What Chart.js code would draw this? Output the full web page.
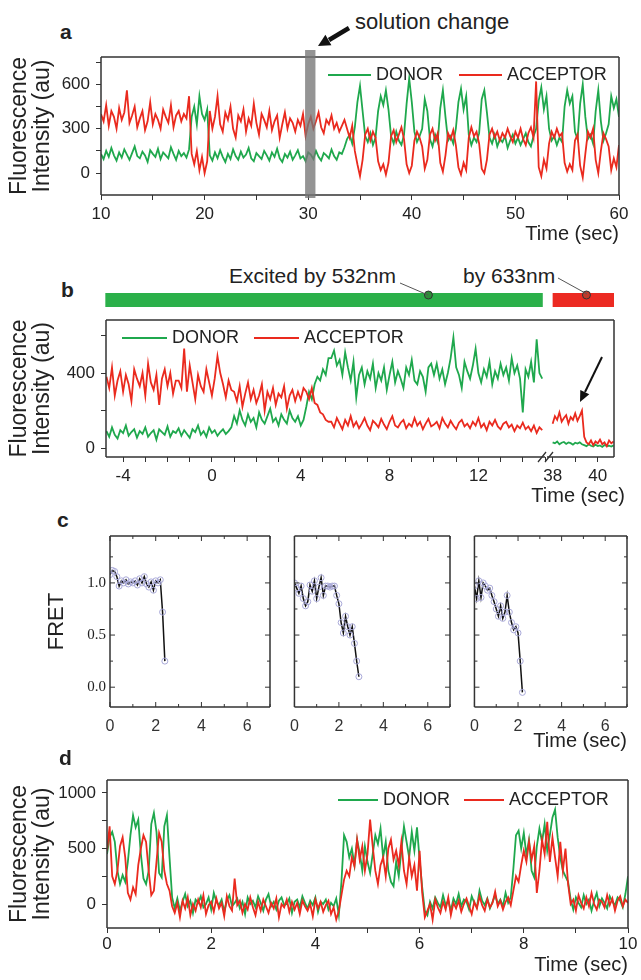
<!DOCTYPE html>
<html>
<head>
<meta charset="utf-8">
<title>Single-molecule FRET traces</title>
<script src="https://cdn.jsdelivr.net/npm/chart.js@4.4.1/dist/chart.umd.min.js"></script>
<style>
  body { margin: 0; background: #fff; }
  #fig { position: relative; width: 641px; height: 980px; font-family: 'Liberation Sans', Arial, sans-serif; color: #222; overflow: hidden; }
  #fig canvas { position: absolute; }
  .lbl { position: absolute; font-weight: bold; font-size: 21px; line-height: 24px; }
  .note { position: absolute; font-size: 21px; line-height: 26px; white-space: nowrap; }
  #over { position: absolute; left: 0; top: 0; pointer-events: none; }
</style>
</head>
<body>
<div id="fig">
  <div class="lbl" style="left:60px;top:20px">a</div>
  <div class="note" style="left:355px;top:9px;font-size:22px">solution change</div>
  <canvas id="chartA" width="641" height="210" style="left:0;top:40px"></canvas>

  <div class="lbl" style="left:61px;top:278px">b</div>
  <div class="note" style="left:229px;top:263px">Excited by 532nm</div>
  <div class="note" style="left:463px;top:263px">by 633nm</div>
  <canvas id="chartB1" width="560" height="236" style="left:0;top:262px"></canvas>
  <canvas id="chartB2" width="201" height="250" style="left:440px;top:262px"></canvas>
  <div class="note" style="right:16px;top:483px;font-size:20px;line-height:24px">Time (sec)</div>

  <div class="lbl" style="left:57px;top:508px">c</div>
  <canvas id="chartC1" width="280" height="240" style="left:0;top:520px"></canvas>
  <canvas id="chartC2" width="180" height="240" style="left:280px;top:520px"></canvas>
  <canvas id="chartC3" width="181" height="240" style="left:460px;top:520px"></canvas>

  <div class="lbl" style="left:59px;top:746px">d</div>
  <canvas id="chartD" width="641" height="220" style="left:0;top:760px"></canvas>

  <svg id="over" width="641" height="980">
    <line x1="349" y1="28" x2="329" y2="40" stroke="#111" stroke-width="4.5"/>
    <polygon points="318,46 331.4,45.2 325.4,34.8" fill="#111"/>
    <line x1="400" y1="283" x2="428" y2="295" stroke="#555" stroke-width="1"/>
    <line x1="558" y1="278" x2="587" y2="294" stroke="#555" stroke-width="1"/>
    <line x1="602" y1="357" x2="585" y2="392" stroke="#111" stroke-width="2"/>
    <polygon points="580,402 589.3,394.3 580.3,389.9" fill="#111"/>
  </svg>
</div>

<script>
// ---- data ----
const GREEN = '#1fa84d';
const RED = '#ea2a1e';

// panel a : 10-60 s, one point every 0.25 s
const startA = 10, stepA = 0.25;
const donorA = [
  130,95,150,110,170,120,85,140,105,160,125,90,135,180,115,100,145,120,75,155,130,110,165,95,140,120,100,175,130,90,150,115,135,105,160,
  380,450,330,520,400,360,430,
  120,85,140,100,155,110,75,130,95,160,115,90,145,105,125,170,100,80,135,115,95,150,120,85,140,110,165,100,75,130,105,145,90,120,155,100,115,80,140,125,95,150,110,85,135,120,100,160,115,90,140,130,175,
  230,260,200,310,480,590,420,250,210,270,
  190,240,420,520,460,560,430,250,200,280,
  220,190,260,470,640,480,280,210,250,300,
  500,420,230,180,260,210,440,560,380,220,
  250,200,300,480,570,430,520,260,190,240,
  210,270,500,560,410,240,200,260,180,230,
  210,250,170,220,260,200,240,190,230,270,
  210,180,250,300,490,580,430,520,300,220,
  250,190,240,210,450,560,470,520,280,230,
  470,600,380,230,260,200,420,560,350,220,
  270,330,520,440,500,380
];
const acceptorA = [
  400,350,460,320,420,380,300,440,360,410,560,340,390,450,310,370,420,290,350,480,330,400,360,300,430,380,340,460,310,390,420,350,400,370,520,
  130,60,150,20,110,0,80,
  420,300,380,520,330,280,410,360,450,300,240,390,350,430,280,370,320,470,340,260,400,360,310,420,290,350,390,240,330,410,300,370,340,280,360,320,400,250,330,380,300,350,410,310,270,360,330,390,300,340,280,320,360,
  300,240,320,150,60,-20,90,260,300,220,
  280,240,80,20,60,-10,70,250,290,210,
  260,310,230,60,0,50,220,280,240,180,
  30,90,260,300,220,270,70,10,120,270,
  230,290,190,40,-10,70,20,240,310,250,
  280,200,30,0,90,260,300,240,280,220,
  270,240,300,250,210,280,240,300,230,190,
  270,310,240,620,40,-20,90,30,200,280,
  240,300,250,270,70,10,60,20,220,260,
  50,-30,130,280,240,300,90,0,150,270,
  230,180,20,100,40,190
];
const xLabelsA = [10, 20, 30, 40, 50, 60];
const yLabelsA = [0, 300, 600];
const solutionChange = [29.7, 30.7];

// panel b : -4.75 to 14.9 s every 0.125 s, then 38.0-40.7 s every 0.1 s
const startB1 = -4.75, stepB1 = 0.125;
const donorB1 = [
  90,60,110,70,50,95,80,120,65,85,100,55,90,75,110,60,80,95,45,100,85,70,115,60,90,80,105,65,95,75,55,100,85,120,70,90,60,110,80,95,65,85,100,75,90,110,
  170,130,200,150,120,180,140,160,110,190,150,130,170,210,140,160,120,180,150,130,200,160,140,170,120,150,
  220,300,260,340,380,360,420,390,480,
  480,520,440,470,390,510,430,360,460,270,
  390,430,340,410,370,450,320,400,360,430,
  310,390,460,350,410,370,320,430,390,470,
  360,340,410,380,300,430,450,390,450,370,
  420,340,400,480,590,430,390,320,460,410,
  370,440,530,400,350,420,380,460,340,410,
  370,450,390,430,360,480,400,440,370,190,
  420,380,460,350,580,400,370
];
const acceptorB1 = [
  380,320,430,280,360,410,300,390,340,250,
  420,370,330,400,280,450,350,310,390,230,
  370,420,330,400,290,360,360,320,530,300,
  440,350,260,390,330,300,420,350,280,370,
  490,400,340,270,360,310,
  300,250,330,220,290,350,260,310,240,280,340,200,300,260,320,230,290,270,330,210,280,310,250,300,260,320,
  300,260,320,240,230,190,180,150,140,
  140,110,160,130,100,150,120,170,115,140,
  105,130,160,120,95,145,130,110,155,125,
  100,140,170,120,110,135,150,105,130,115,
  160,120,140,100,130,155,115,125,140,105,
  160,130,110,145,120,100,135,150,115,130,
  105,140,120,160,110,130,95,140,120,150,
  115,100,130,140,110,125,90,120,105,135,
  100,115,90,120,80,110,95
];
const startB2 = 38, stepB2 = 0.1;
const donorB2 = [30,25,35,20,28,32,22,30,26,18,28,24,30,20,15,10,20,12,8,18,10,14,6,16,10,12,8,14];
const acceptorB2 = [130,170,150,190,140,160,175,130,165,150,185,145,170,200,60,30,20,40,15,35,25,45,20,30,10,40,25,35];
const xLabelsB1 = [-4, 0, 4, 8, 12];
const xLabelsB2 = [38, 40];
const yLabelsB = [0, 400];

// panel c : FRET efficiency, one point every 0.1 s
const stepC = 0.1;
const fret1 = [1.08,1.12,1.11,1.06,0.97,1.02,1.0,1.03,0.99,1.01,1.0,1.02,0.98,1.04,1.0,1.06,0.99,0.96,1.01,0.93,1.02,1.0,1.03,0.72,0.25];
const fret2 = [1.0,0.95,0.9,0.97,0.85,0.78,0.82,0.98,0.92,1.02,0.85,0.96,1.05,0.88,0.97,0.97,0.96,0.97,0.97,0.88,0.8,0.62,0.52,0.68,0.58,0.5,0.58,0.42,0.25,0.1];
const fret3 = [0.97,0.85,1.02,0.86,1.0,0.97,0.93,0.95,0.88,0.82,0.75,0.68,0.78,0.66,0.72,0.88,0.72,0.62,0.55,0.58,0.52,0.25,-0.05];
const xLabelsC = [0, 2, 4, 6];
const yLabelsC = [0, 0.5, 1];

// panel d : 0-10 s every 0.05 s
const startD = 0, stepD = 0.05;
const donorD = [
  450,600,650,560,300,180,260,200,380,620,800,690,760,450,230,180,300,720,820,650,280,240,700,800,420,60,
  -40,50,-60,20,90,-20,30,-80,40,10,70,-30,0,60,-50,100,20,-10,40,-70,30,80,-20,10,50,-40,20,-90,60,0,30,-30,70,10,-60,40,90,-20,20,-50,30,60,-10,0,50,-80,20,40,-30,70,10,-40,30,-10,60,-70,20,0,40,-50,10,-20,50,-100,
  200,620,560,420,500,350,580,460,300,520,380,280,450,620,540,680,420,560,300,200,160,380,250,480,700,560,420,650,480,690,400,150,-60,
  -100,20,-40,60,10,-30,80,-10,30,-60,50,0,90,-20,40,20,-50,70,10,-30,120,30,-10,50,-40,20,80,0,40,-20,100,10,60,
  320,620,660,500,640,440,580,300,240,520,680,560,720,480,620,780,850,600,420,300,250,200,40,
  -50,60,10,-30,80,0,40,-60,30,100,-20,50,10,-40,70,20,-10,60,30,-30,90,250
];
const acceptorD = [
  480,700,250,180,300,520,600,420,100,40,150,90,350,500,620,560,300,80,120,380,640,560,300,180,120,-20,
  -80,10,-120,30,-40,60,-100,0,-60,40,-30,80,-90,-10,20,-70,50,-40,10,-110,70,-20,-60,230,-10,30,-80,0,-50,60,-30,-100,20,-60,40,-20,-80,10,-40,50,-120,0,-30,40,-70,20,-50,10,-90,30,-20,-60,0,-110,40,-40,20,-70,-10,30,-90,-30,-140,-60,
  80,220,300,250,420,340,580,400,520,300,450,760,520,300,180,350,420,250,500,580,400,480,350,560,300,180,420,250,350,120,480,100,-120,
  -60,0,-140,40,-30,-80,20,-50,60,-100,10,-40,30,-70,0,50,-20,-90,20,-40,70,-10,-60,40,-30,10,110,-20,30,-50,20,60,-10,
  120,250,200,350,480,380,560,400,520,100,300,580,450,740,380,600,420,250,560,300,500,180,0,
  40,-60,80,10,-40,60,-20,100,0,-50,40,20,-30,80,-10,50,-60,30,70,-20,40,10
];
const xLabelsD = [0, 2, 4, 6, 8, 10];
const yLabelsD = [0, 500, 1000];

// ---- helpers ----
const pts = (start, step, arr) => arr.map((v, i) => ({x: start + i * step, y: v}));
const near = (v, list) => list.some(l => Math.abs(l - v) < 1e-6);

Chart.defaults.font.family = "'Liberation Sans', Arial, sans-serif";
Chart.defaults.color = '#222';
Chart.defaults.animation = false;
Chart.defaults.responsive = false;
Chart.defaults.plugins.legend.display = false;
Chart.defaults.plugins.tooltip.enabled = false;
Chart.defaults.elements.point.radius = 0;

const frame = {
  id: 'frame',
  afterDatasetsDraw(chart, args, o) {
    const {left, right, top, bottom} = chart.chartArea;
    const ctx = chart.ctx;
    const s = o.sides || 'ltrb';
    const ext = o.extend || 0;
    ctx.save();
    ctx.strokeStyle = '#333';
    ctx.lineWidth = 1.5;
    ctx.beginPath();
    if (s.includes('l')) { ctx.moveTo(left, top); ctx.lineTo(left, bottom); }
    if (s.includes('t')) { ctx.moveTo(left, top); ctx.lineTo(right + ext, top); }
    if (s.includes('r')) { ctx.moveTo(right, top); ctx.lineTo(right, bottom); }
    if (s.includes('b')) { ctx.moveTo(left, bottom); ctx.lineTo(right, bottom); }
    ctx.stroke();
    ctx.restore();
  }
};

const band = {
  id: 'band',
  afterDatasetsDraw(chart, args, o) {
    const x = chart.scales.x, {top, bottom} = chart.chartArea;
    const x0 = x.getPixelForValue(o.range[0]), x1 = x.getPixelForValue(o.range[1]);
    chart.ctx.save();
    chart.ctx.fillStyle = 'rgba(118,118,118,0.78)';
    chart.ctx.fillRect(x0, top - 7, x1 - x0, bottom - top + 10);
    chart.ctx.restore();
  }
};

const lineLegend = {
  id: 'lineLegend',
  afterDraw(chart, args, o) {
    const ctx = chart.ctx;
    let x = o.x;
    const y = chart.chartArea.top + o.dy;
    ctx.save();
    ctx.font = "18px 'Liberation Sans', Arial, sans-serif";
    ctx.textBaseline = 'middle';
    chart.data.datasets.forEach(ds => {
      ctx.strokeStyle = ds.borderColor;
      ctx.lineWidth = 2;
      ctx.beginPath();
      ctx.moveTo(x, y);
      ctx.lineTo(x + o.line, y);
      ctx.stroke();
      x += o.line + 5;
      ctx.fillStyle = '#222';
      ctx.fillText(ds.label, x, y);
      x += ctx.measureText(ds.label).width + o.space;
    });
    ctx.restore();
  }
};

// excitation laser bar above panel b
const excite = {
  id: 'excite',
  afterDraw(chart, args, o) {
    const x = chart.scales.x, {top} = chart.chartArea;
    const x0 = x.getPixelForValue(o.from), x1 = x.getPixelForValue(o.to);
    const ctx = chart.ctx;
    ctx.save();
    ctx.fillStyle = o.color;
    ctx.fillRect(x0, top - 27, x1 - x0, 14);
    ctx.beginPath();
    ctx.arc(x.getPixelForValue(o.mark), top - 25, 4, 0, Math.PI * 2);
    ctx.fillStyle = o.markColor;
    ctx.fill();
    ctx.strokeStyle = '#333';
    ctx.lineWidth = 1;
    ctx.stroke();
    ctx.restore();
  }
};

const axisBreak = {
  id: 'axisBreak',
  afterDraw(chart) {
    const {right, bottom} = chart.chartArea;
    const ctx = chart.ctx;
    ctx.save();
    ctx.strokeStyle = '#333';
    ctx.lineWidth = 1.3;
    ctx.beginPath();
    ctx.moveTo(right - 7, bottom + 5); ctx.lineTo(right + 1, bottom - 5);
    ctx.moveTo(right, bottom + 5); ctx.lineTo(right + 8, bottom - 5);
    ctx.stroke();
    ctx.restore();
  }
};

const innerTicks = {
  id: 'innerTicks',
  afterDraw(chart, args, o) {
    const {left, right, top, bottom} = chart.chartArea;
    const ctx = chart.ctx;
    const isMajor = (v, m) => Math.abs(v / m - Math.round(v / m)) < 1e-6;
    ctx.save();
    ctx.strokeStyle = '#333';
    ctx.lineWidth = 1;
    ctx.beginPath();
    chart.scales.x.ticks.forEach(t => {
      const p = chart.scales.x.getPixelForValue(t.value);
      const len = isMajor(t.value, o.xMajor) ? 5 : 3;
      ctx.moveTo(p, bottom); ctx.lineTo(p, bottom - len);
      ctx.moveTo(p, top); ctx.lineTo(p, top + len);
    });
    chart.scales.y.ticks.forEach(t => {
      const p = chart.scales.y.getPixelForValue(t.value);
      const len = isMajor(t.value, o.yMajor) ? 5 : 3;
      ctx.moveTo(left, p); ctx.lineTo(left + len, p);
      ctx.moveTo(right, p); ctx.lineTo(right - len, p);
    });
    ctx.stroke();
    ctx.restore();
  }
};

const tickGrid = {drawOnChartArea: false, tickLength: 5, color: '#333'};

function xAxis(min, max, step, labels, height, pad, title) {
  return {
    type: 'linear', min, max,
    afterFit: s => { s.height = height; },
    grid: tickGrid,
    border: {display: false},
    ticks: {stepSize: step, includeBounds: false, autoSkip: false, maxRotation: 0, padding: pad,
      font: {size: 17}, callback: v => near(v, labels) ? String(v) : ''},
    title: title ? {display: true, text: 'Time (sec)', align: 'end', font: {size: 20}, padding: {top: 0, bottom: title}} : {display: false}
  };
}

function yAxis(min, max, step, labels, width) {
  return {
    type: 'linear', min, max,
    afterFit: s => { s.width = width; },
    grid: tickGrid,
    border: {display: false},
    ticks: {stepSize: step, includeBounds: false, autoSkip: false, padding: 6,
      font: {size: 17}, callback: v => near(v, labels) ? String(v) : ''},
    title: {display: true, text: ['Fluorescence', 'Intensity (au)'], font: {size: 23, lineHeight: 1.0}, padding: {top: 8.5, bottom: 0}}
  };
}

function traces(donor, acceptor, start, step) {
  return [
    {label: 'DONOR', data: pts(start, step, donor), borderColor: GREEN, borderWidth: 1.8, order: 1},
    {label: 'ACCEPTOR', data: pts(start, step, acceptor), borderColor: RED, borderWidth: 1.8, order: 0}
  ];
}

// ---- panel a ----
new Chart(document.getElementById('chartA'), {
  type: 'line',
  data: {datasets: traces(donorA, acceptorA, startA, stepA)},
  options: {
    layout: {padding: {top: 17, right: 22, left: 0, bottom: 0}},
    scales: {
      x: xAxis(10, 60, 5, xLabelsA, 55, 4, 4),
      y: yAxis(-148, 785, 150, yLabelsA, 101)
    },
    plugins: {
      frame: {sides: 'ltrb'},
      band: {range: solutionChange},
      lineLegend: {x: 328, dy: 18, line: 43, space: 16}
    }
  },
  plugins: [frame, band, lineLegend]
});

// ---- panel b ----
new Chart(document.getElementById('chartB1'), {
  type: 'line',
  data: {datasets: traces(donorB1, acceptorB1, startB1, stepB1)},
  options: {
    layout: {padding: {top: 58, right: 15, left: 0, bottom: 0}},
    scales: {
      x: xAxis(-4.77, 15.0, 1, xLabelsB1, 41, 4, 0),
      y: yAxis(-48, 683, 200, yLabelsB, 106)
    },
    plugins: {
      frame: {sides: 'ltb', extend: 2},
      excite: {from: -4.8, to: 14.9, color: '#2bb04a', mark: 9.75, markColor: '#2e8b3a'},
      lineLegend: {x: 122, dy: 18, line: 45, space: 15}
    }
  },
  plugins: [frame, excite, axisBreak, lineLegend]
});

new Chart(document.getElementById('chartB2'), {
  type: 'line',
  data: {datasets: traces(donorB2, acceptorB2, startB2, stepB2)},
  options: {
    layout: {padding: {top: 58, right: 27, left: 107, bottom: 0}},
    scales: {
      x: xAxis(37.75, 40.72, 1, xLabelsB2, 55, 4, 0),
      y: {type: 'linear', min: -48, max: 683, display: false}
    },
    plugins: {
      frame: {sides: 'trb'},
      excite: {from: 38, to: 40.72, color: '#ec2a22', mark: 39.5, markColor: '#c0392b'}
    }
  },
  plugins: [frame, excite]
});

// ---- panel c ----
function fretChart(id, values, pad, showY, title) {
  return new Chart(document.getElementById(id), {
    type: 'line',
    data: {datasets: [{
      label: 'FRET', data: pts(0, stepC, values), borderColor: '#111', borderWidth: 1.5,
      pointRadius: 3, pointBorderColor: '#a9a9d8', pointBorderWidth: 1, pointBackgroundColor: 'rgba(255,255,255,0)'
    }]},
    options: {
      layout: {padding: pad},
      scales: {
        x: {
          type: 'linear', min: 0, max: 7,
          afterFit: s => { s.height = 53; },
          grid: {display: false, drawTicks: false},
          border: {display: false},
          ticks: {stepSize: 1, includeBounds: false, autoSkip: false, maxRotation: 0, padding: 10,
            font: {size: 16}, color: '#333', callback: v => near(v, xLabelsC) ? String(v) : ''},
          title: title ? {display: true, text: 'Time (sec)', align: 'end', font: {size: 20}, padding: {top: 0, bottom: 7}} : {display: false}
        },
        y: showY ? {
          type: 'linear', min: -0.19, max: 1.45,
          afterFit: s => { s.width = 110; },
          grid: {display: false, drawTicks: false},
          border: {display: false},
          ticks: {stepSize: 0.25, includeBounds: false, autoSkip: false, padding: 4,
            font: {family: "'Liberation Serif', 'Times New Roman', serif", size: 15},
            callback: v => near(v, yLabelsC) ? v.toFixed(1) : ''},
          title: {display: true, text: 'FRET', font: {size: 22}, padding: {top: 44, bottom: 0}}
        } : {type: 'linear', min: -0.19, max: 1.45, display: false, ticks: {stepSize: 0.25, includeBounds: false}}
      },
      plugins: {
        frame: {sides: 'ltrb'},
        innerTicks: {xMajor: 2, yMajor: 0.5}
      }
    },
    plugins: [frame, innerTicks]
  });
}
fretChart('chartC1', fret1, {top: 16, right: 9, left: 0, bottom: 0}, true, false);
fretChart('chartC2', fret2, {top: 16, right: 10, left: 9, bottom: 0}, false, false);
fretChart('chartC3', fret3, {top: 16, right: 14, left: 7, bottom: 0}, false, true);

// ---- panel d ----
new Chart(document.getElementById('chartD'), {
  type: 'line',
  data: {datasets: traces(donorD, acceptorD, startD, stepD)},
  options: {
    layout: {padding: {top: 20, right: 13, left: 0, bottom: 0}},
    scales: {
      x: xAxis(0, 10, 1, xLabelsD, 52, 1, 3),
      y: yAxis(-216, 1117, 250, yLabelsD, 107)
    },
    plugins: {
      frame: {sides: 'ltrb'},
      lineLegend: {x: 338, dy: 20, line: 40, space: 14}
    }
  },
  plugins: [frame, lineLegend]
});
</script>
</body>
</html>
